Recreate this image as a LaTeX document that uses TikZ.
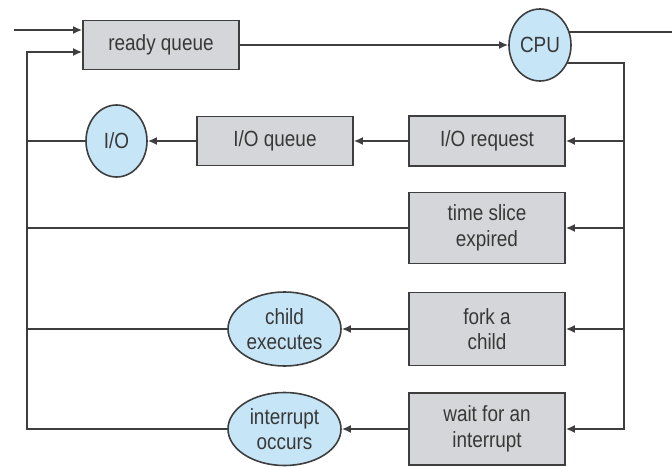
\documentclass[tikz,border=0pt]{standalone}
\usepackage{fontspec}
\setmainfont[FakeStretch=0.86]{Liberation Sans}
\usetikzlibrary{shapes.geometric,arrows.meta,backgrounds}
\definecolor{boxfill}{HTML}{D5D6D9}
\definecolor{ovalfill}{HTML}{C6E5F6}
\definecolor{ink}{HTML}{3E3E3E}
\definecolor{txt}{HTML}{383838}
\tikzset{
  qbox/.style={draw=ink, line width=1.6pt, fill=boxfill, rectangle, minimum width=156pt,
    inner sep=0pt, align=center, text=txt, font=\fontsize{22}{25.5}\selectfont},
  oval/.style={draw=ink, line width=1.6pt, fill=ovalfill, ellipse, inner sep=0pt,
    align=center, text=txt, font=\fontsize{22}{25.5}\selectfont},
  link/.style={draw=ink, line width=2pt},
  flow/.style={link, -{Latex[length=9pt,width=8pt]}},
}
\begin{document}
\begin{tikzpicture}[x=1pt,y=-1pt]
\useasboundingbox (0,0) rectangle (672,466);
% queues and devices
\node[qbox, minimum height=49pt] (rq) at (161,45) {ready queue};
\node[oval, minimum width=62pt, minimum height=72pt] (cpu) at (540,45) {CPU};
\node[oval, minimum width=61pt, minimum height=72pt] (io) at (116.5,141) {I/O};
\node[qbox, minimum height=49pt] (ioq) at (275,141) {I/O queue};
\node[qbox, minimum height=50pt] (ioreq) at (487,141) {I/O request};
\node[qbox, minimum height=71pt] (ts) at (487,228) {time slice\\expired};
\node[qbox, minimum height=73pt] (fork) at (487,329) {fork a\\child};
\node[qbox, minimum height=72pt] (wait) at (487,429) {wait for an\\interrupt};
\node[oval, minimum width=113pt, minimum height=74pt] (child) at (284.5,329) {child\\executes};
\node[oval, minimum width=113pt, minimum height=73pt] (intr) at (284.5,429) {interrupt\\occurs};
% loose ends of the wiring
\coordinate (in) at (14,30);
\coordinate (out) at (672,32);
\coordinate (bus) at (624,63);
\coordinate (lp) at (27,52);
\begin{scope}[on background layer]
  % entry and exit
  \draw[flow] (in) -- (in -| rq.west);
  \draw[flow] (rq.east |- cpu.west) -- (cpu.west);
  \draw[link] (cpu.center |- out) -- (out);
  % dispatch bus on the right
  \draw[flow] (cpu.center |- bus) -- (bus) -- (bus |- wait.east) -- (wait.east);
  \draw[flow] (bus |- ioreq.east) -- (ioreq.east);
  \draw[flow] (bus |- ts.east) -- (ts.east);
  \draw[flow] (bus |- fork.east) -- (fork.east);
  % left-going steps
  \draw[flow] (ioreq.west) -- (ioq.east);
  \draw[flow] (ioq.west) -- (io.east);
  \draw[flow] (fork.west) -- (child.east);
  \draw[flow] (wait.west) -- (intr.east);
  % return loop to the ready queue
  \draw[flow] (intr.center) -- (lp |- intr.center) -- (lp) -- (lp -| rq.west);
  \draw[link] (io.center) -- (lp |- io.center);
  \draw[link] (ts.west) -- (lp |- ts.west);
  \draw[link] (child.center) -- (lp |- child.center);
\end{scope}
\end{tikzpicture}
\end{document}
